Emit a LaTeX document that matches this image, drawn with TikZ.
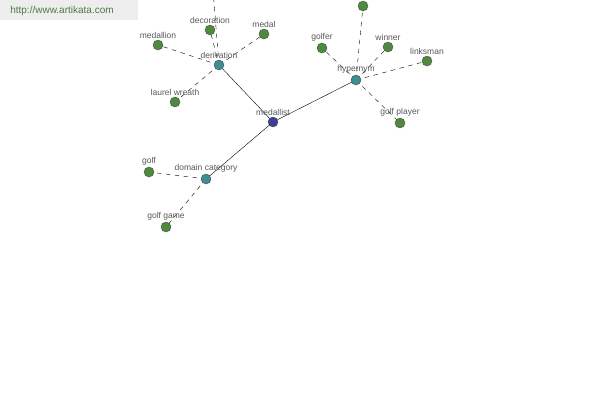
\documentclass[tikz,border=0pt]{standalone}
\usepackage{fontspec}
\setmainfont{Liberation Sans}
\usetikzlibrary{backgrounds}
\tikzset{
    word/.style={circle, draw=black!70, fill=leafColour, minimum size=10pt, inner sep=0pt,
        label={[text=black!65, font=\fontsize{8.5}{9}\selectfont, inner sep=1pt]above:#1}},
    relation/.style={word=#1, fill=relColour},
    link/.style={dashed, dash pattern=on 4.5pt off 4.5pt, black, thin},
}
\begin{document}
\begin{tikzpicture}[x=1pt, y=-1pt]
    \definecolor{leafColour}{HTML}{4E8A3E}
    \definecolor{relColour}{HTML}{3E8E92}
    \definecolor{headColour}{HTML}{3C3F98}
    \definecolor{boxColour}{HTML}{EDEDED}
    \definecolor{urlColour}{HTML}{4E7A44}

    % Fix canvas
    \useasboundingbox (0,0) rectangle (600,400);

    % Watermark
    \fill[boxColour] (0,0) rectangle (138,20);
    \node[text=urlColour, font=\fontsize{10}{11}\selectfont] (url) at (62,11) {http://www.artikata.com};

    % Draw centre and relations
    \node[word=medallist, fill=headColour] (medallist) at (273,122) {};
    \node[relation=derivation] (derivation) at (219,65) {};
    \node[relation=hypernym] (hypernym) at (356,80) {};
    \node[relation=domain category] (domain) at (206,179) {};

    % Draw derivation words
    \node[word=decoration] (decoration) at (210,30) {};
    \node[word=medal] (medal) at (264,34) {};
    \node[word=medallion] (medallion) at (158,45) {};
    \node[word=laurel wreath] (wreath) at (175,102) {};
    \coordinate (up1) at (213,-10);

    % Draw hypernym words
    \node[word={}] (top) at (363,6) {};
    \node[word=golfer] (golfer) at (322,48) {};
    \node[word=winner] (winner) at (388,47) {};
    \node[word=linksman] (linksman) at (427,61) {};
    \node[word=golf player] (golfplayer) at (400,123) {};

    % Draw domain words
    \node[word=golf] (golf) at (149,172) {};
    \node[word=golf game] (golfgame) at (166,227) {};

    % Draw connectors behind the nodes
    \begin{scope}[on background layer]
        \fill[white] (0,20) rectangle (600,400);
        \fill[white] (138,0) rectangle (600,20);
        \foreach \r in {derivation, hypernym, domain}
            \draw[thin] (medallist.center) -- (\r.center);
        \foreach \w in {decoration, medal, medallion, wreath, up1}
            \draw[link] (derivation.center) -- (\w);
        \foreach \w in {top, golfer, winner, linksman, golfplayer}
            \draw[link] (hypernym.center) -- (\w);
        \foreach \w in {golf, golfgame}
            \draw[link] (domain.center) -- (\w);
    \end{scope}
\end{tikzpicture}
\end{document}
